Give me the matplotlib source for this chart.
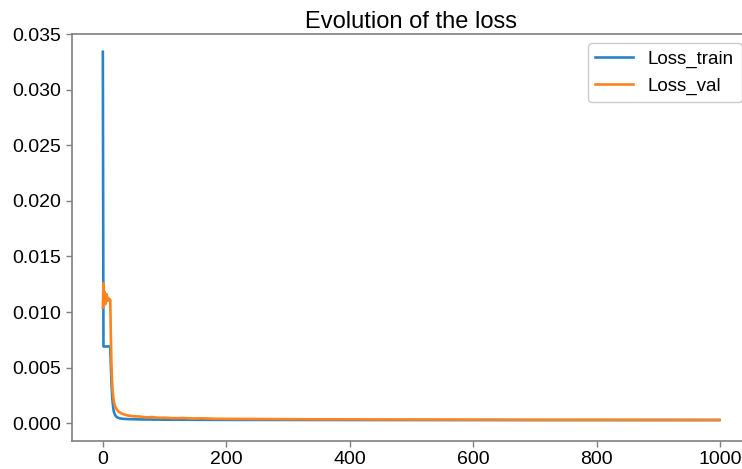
import matplotlib
matplotlib.use("Agg")
import matplotlib.pyplot as plt

plt.rcParams['font.family'] = ['Liberation Sans', 'DejaVu Sans']

# epochs / valeurs
epochs_train = [0, 1, 2, 12, 13, 14, 15, 16, 17, 18, 20, 22, 25, 28, 32, 40, 60, 100, 200, 400, 700, 999]
loss_train = [0.0334, 0.0069, 0.0069, 0.0069, 0.0052, 0.0036, 0.0025, 0.0018, 0.0013, 0.0010,
              0.00072, 0.00058, 0.00048, 0.00043, 0.00040, 0.00037, 0.00034, 0.00032, 0.00030,
              0.00029, 0.00028, 0.00028]

epochs_val = [0, 1, 2, 3, 4, 5, 6, 7, 8, 9, 10, 11, 12, 13, 14, 15, 16, 18, 20, 23, 26, 30, 35,
              40, 50, 60, 70, 80, 90, 100, 115, 130, 145, 160, 180, 200, 300, 500, 700, 999]
loss_val = [0.0104, 0.0126, 0.0110, 0.0118, 0.0107, 0.0113, 0.0116, 0.0110, 0.0113, 0.0111,
            0.0112, 0.0110, 0.0111, 0.0078, 0.0052, 0.0037, 0.0028, 0.0019, 0.0015, 0.0012,
            0.00102, 0.00088, 0.00078, 0.00070, 0.00062, 0.00060, 0.00053, 0.00055, 0.00049,
            0.00050, 0.00045, 0.00047, 0.00042, 0.00044, 0.00040, 0.00039, 0.00036, 0.00033,
            0.00031, 0.00030]

fig = plt.figure(figsize=(7.42, 4.69), dpi=100)
ax = fig.add_axes([0.097, 0.0597, 0.915, 0.8678])

ax.plot(epochs_train, loss_train, color='#2b83c6', lw=1.9, label='Loss_train')
ax.plot(epochs_val, loss_val, color='#ff8420', lw=1.9, label='Loss_val')

ax.set_xlim(-50, 1050)
ax.set_ylim(-0.0016, 0.035)
ax.set_xticks([0, 200, 400, 600, 800, 1000])
ax.set_yticks([0.0, 0.005, 0.010, 0.015, 0.020, 0.025, 0.030, 0.035])
ax.set_yticklabels(['0.000', '0.005', '0.010', '0.015', '0.020', '0.025', '0.030', '0.035'])

for s in ax.spines.values():
    s.set_color('#808080')
    s.set_linewidth(1.2)
ax.tick_params(colors='#808080', labelcolor='black', labelsize=14, length=4, width=1)

ax.set_title('Evolution of the loss', fontsize=17, pad=4)
leg = ax.legend(loc='upper right', fontsize=13.5, edgecolor='#cccccc', framealpha=1,
                borderaxespad=0.5)

fig.savefig('out.png', dpi=100)
